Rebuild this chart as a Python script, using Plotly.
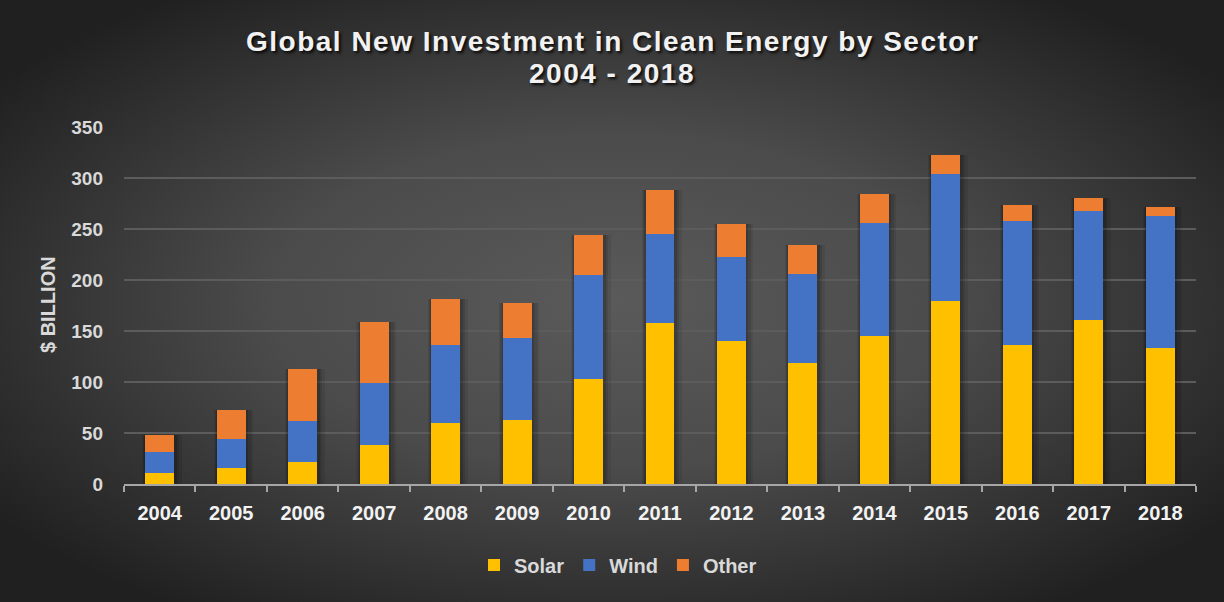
import base64
import plotly.graph_objects as go

years = ["2004", "2005", "2006", "2007", "2008", "2009", "2010", "2011",
         "2012", "2013", "2014", "2015", "2016", "2017", "2018"]
solar = [11, 16, 22, 38.5, 60, 63, 102.5, 157.5, 140, 119, 145, 179, 136, 160.5, 133]
wind = [20, 28, 40, 60.5, 76, 80, 102.5, 87.5, 83, 86.5, 110.5, 124.5, 121.5, 107, 129.5]
other = [17, 28.5, 51, 60, 45, 34, 39, 43, 31.5, 28.5, 28.5, 19.5, 16.5, 12.5, 9.5]
y_ticks = [0, 50, 100, 150, 200, 250, 300, 350]
title_lines = ["Global New Investment in Clean Energy by Sector", "2004 - 2018"]

totals = [s + w + o for s, w, o in zip(solar, wind, other)]

W, H = 1224, 602
ML, MR, MT, MB = 124, 28, 127, 118
pw = W - ML - MR
ph = H - MT - MB
FONT = "Liberation Sans, Arial, sans-serif"
BAR_W = 0.405

svg = f'''<svg xmlns="http://www.w3.org/2000/svg" width="{W}" height="{H}" viewBox="0 0 {W} {H}" preserveAspectRatio="none">
<defs><radialGradient id="g" cx="50%" cy="50%" r="62%">
<stop offset="0%" stop-color="#5a5a5a"/>
<stop offset="45%" stop-color="#4b4b4b"/>
<stop offset="100%" stop-color="#202020"/>
</radialGradient></defs>
<rect width="{W}" height="{H}" fill="url(#g)"/></svg>'''
bg_uri = "data:image/svg+xml;base64," + base64.b64encode(svg.encode()).decode()

fig = go.Figure()
# soft shadows behind the bars, each on its own overlaid axis so they don't stack
for ax, (extra, alpha) in zip(["x", "x2", "x3"], [(0.15, 0.08), (0.10, 0.10), (0.05, 0.14)]):
    fig.add_trace(go.Bar(
        x=years, y=totals, xaxis=ax, yaxis="y",
        width=BAR_W + extra, offset=-BAR_W / 2 - extra * 0.3,
        marker=dict(color=f"rgba(0,0,0,{alpha})", line=dict(width=0)),
        showlegend=False, hoverinfo="skip",
    ))
for name, vals, col in [("Solar", solar, "#FFC000"), ("Wind", wind, "#4472C4"), ("Other", other, "#ED7D31")]:
    fig.add_trace(go.Bar(x=years, y=vals, name=name, xaxis="x4", yaxis="y",
                         width=BAR_W,
                         marker=dict(color=col, line=dict(width=0))))

annotations = [dict(
    text="$ BILLION", textangle=-90,
    xref="paper", yref="paper",
    x=(48 - ML) / pw, y=(H - MB - 305) / ph,
    xanchor="center", yanchor="middle", showarrow=False,
    font=dict(family=FONT, size=20, color="#d9d9d9", weight="bold"),
)]
for line, ypx in zip(title_lines, [42, 73]):
    annotations.append(dict(
        text=f'<span style="letter-spacing:1.5px">{line}</span>',
        xref="paper", yref="paper",
        x=(612 - ML) / pw, y=1 + (MT - ypx) / ph,
        xanchor="center", yanchor="middle", showarrow=False,
        font=dict(family=FONT, size=28, color="#f2f2f2", weight="bold",
                  shadow="2px 2px 3px rgba(0,0,0,0.85)"),
    ))

hidden_x = dict(type="category", overlaying="x", matches="x", visible=False)

fig.update_layout(
    width=W, height=H,
    barmode="stack",
    margin=dict(l=ML, r=MR, t=MT, b=MB),
    paper_bgcolor="#2a2a2a",
    plot_bgcolor="rgba(0,0,0,0)",
    images=[dict(source=bg_uri, xref="paper", yref="paper",
                 x=-ML / pw, y=1 + MT / ph, sizex=W / pw, sizey=H / ph,
                 xanchor="left", yanchor="top", sizing="stretch", layer="below")],
    xaxis=dict(
        type="category",
        showgrid=False,
        showline=True, linecolor="#a6a6a6", linewidth=2,
        ticks="outside", tickson="boundaries", ticklen=6, tickwidth=2, tickcolor="#a6a6a6",
        tickfont=dict(family=FONT, size=20, color="#f2f2f2", weight="bold"),
        ticklabelstandoff=10,
    ),
    xaxis2=hidden_x, xaxis3=hidden_x, xaxis4=hidden_x,
    yaxis=dict(
        range=[0, 350],
        tickvals=y_ticks,
        showgrid=True, gridcolor="#5c5c5c", gridwidth=1.5,
        zeroline=False, showline=False,
        tickfont=dict(family=FONT, size=19, color="#d9d9d9", weight="bold"),
        ticklabelstandoff=20,
    ),
    legend=dict(
        orientation="h", x=(618 - ML) / pw, xanchor="center", xref="paper",
        y=(H - MB - 565) / ph, yanchor="middle",
        font=dict(family=FONT, size=20, color="#d9d9d9", weight="bold"),
        itemwidth=30, traceorder="normal",
        bgcolor="rgba(0,0,0,0)",
    ),
    annotations=annotations,
)

fig.write_html("out.html", config={"displayModeBar": False},
               post_script="document.body.style.margin='0px';")
